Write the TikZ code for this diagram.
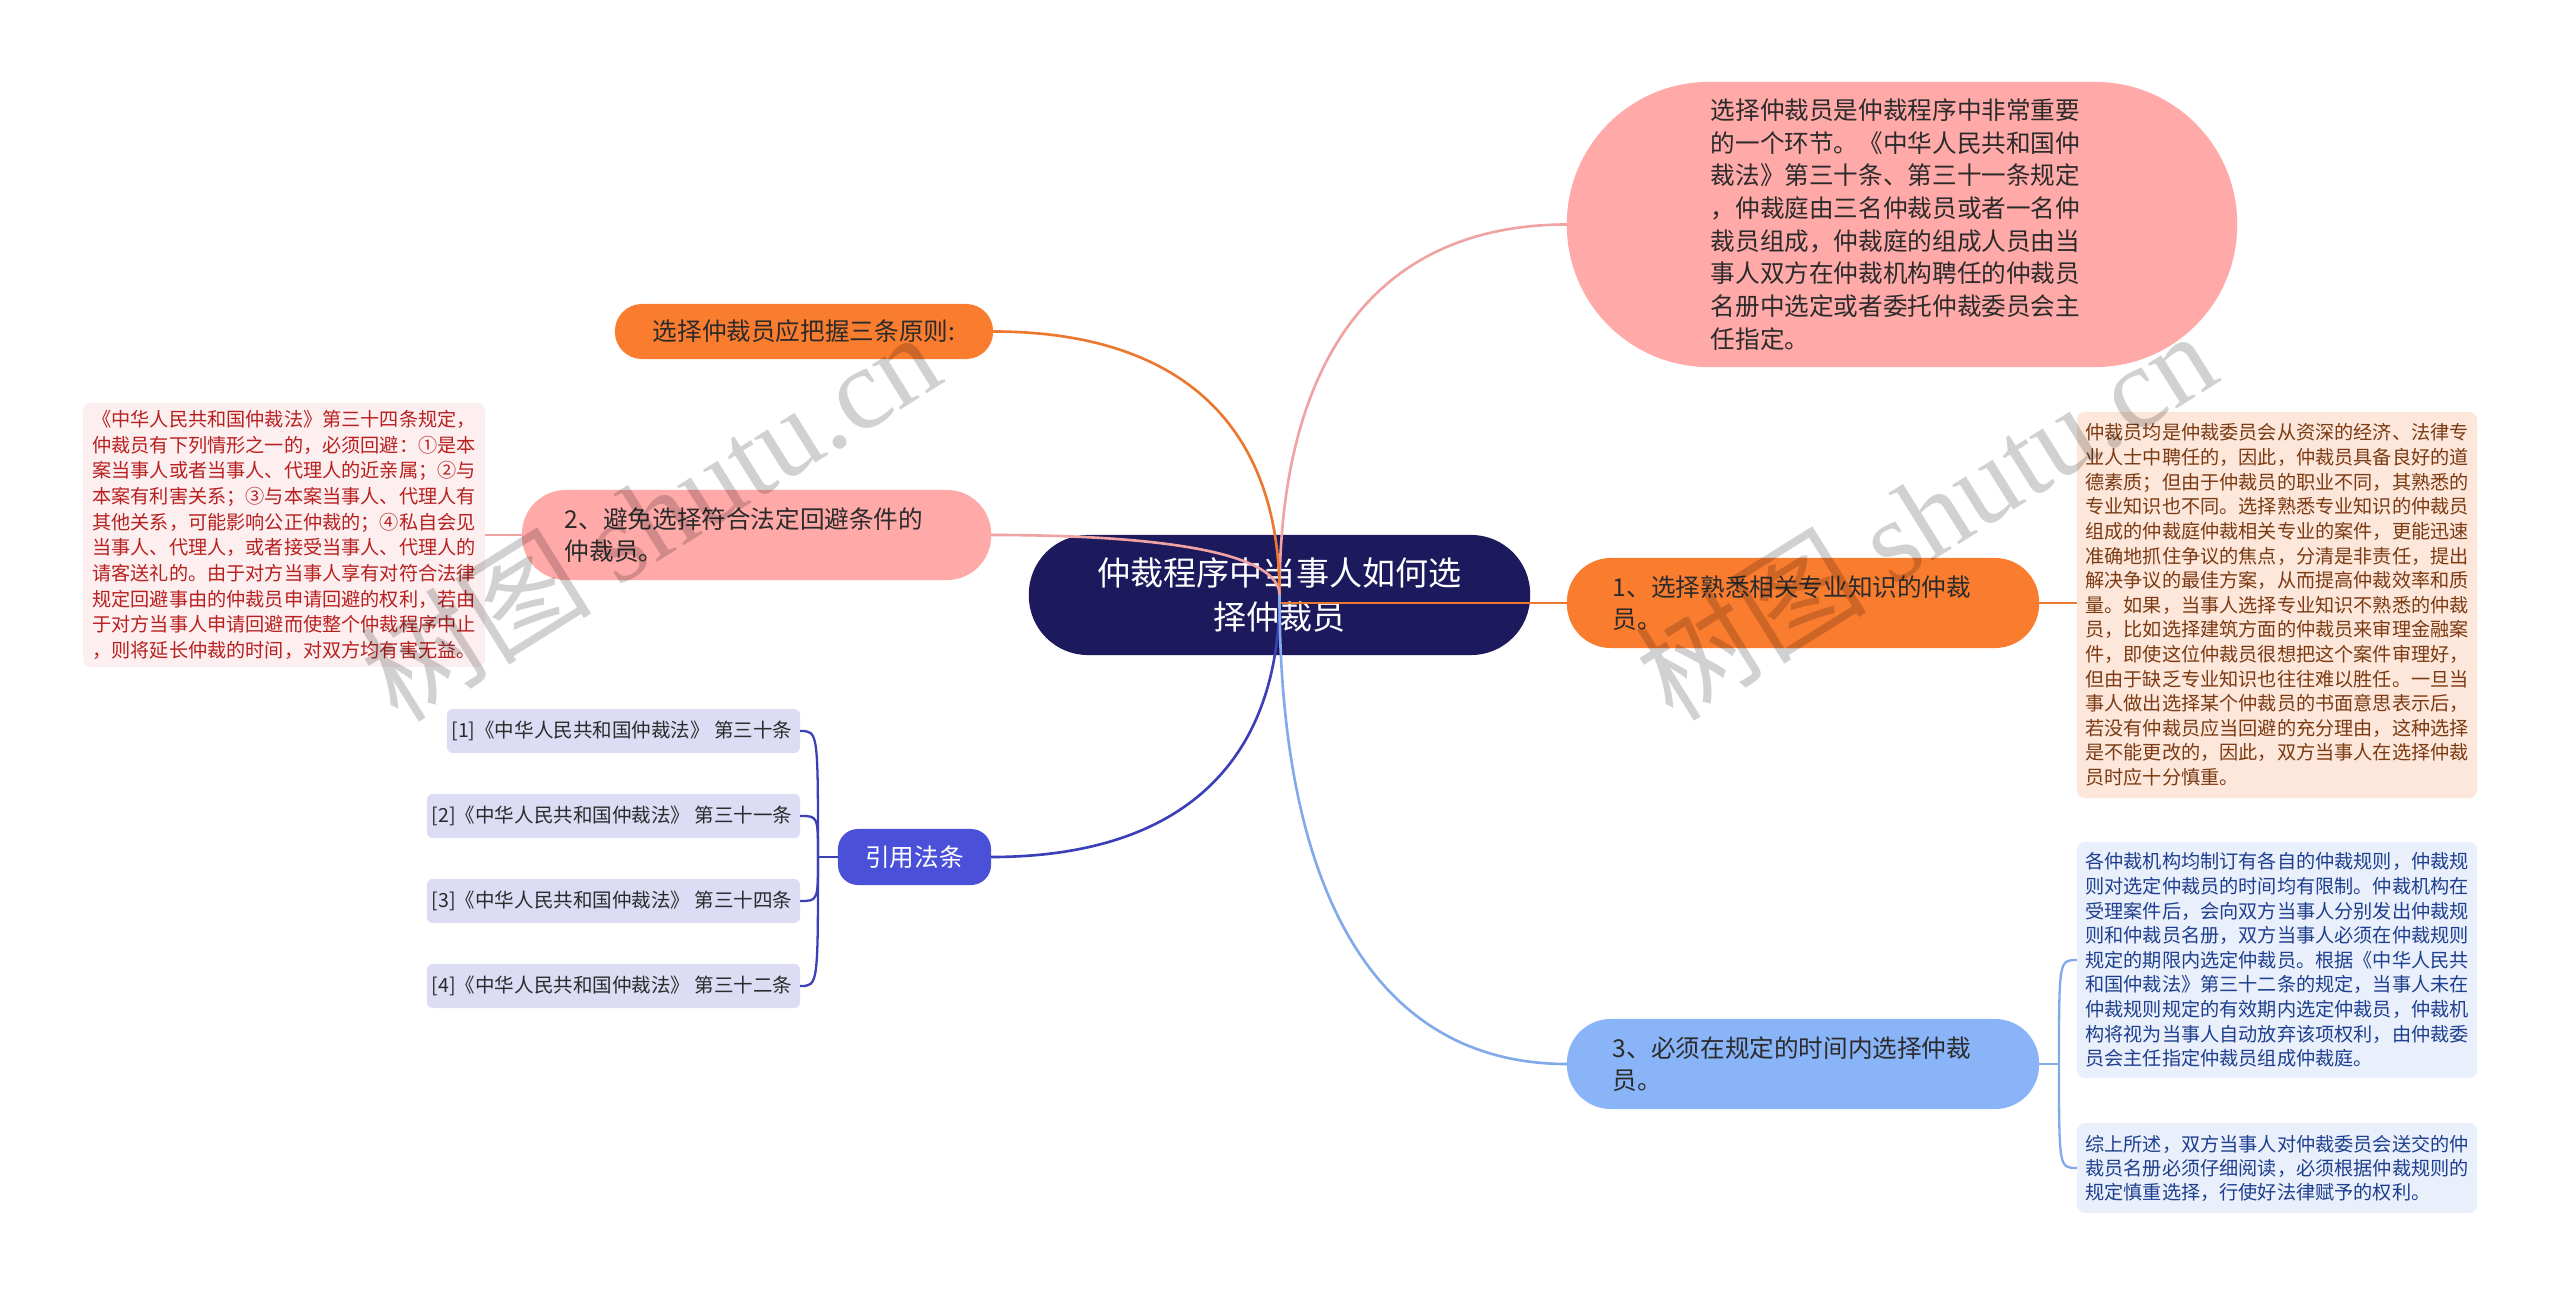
\documentclass[tikz,border=0pt]{standalone}
\usepackage{fontspec}
\setmainfont{Noto Sans CJK SC}
\newfontfamily\wmfont{Liberation Serif}
\usetikzlibrary{calc}
\definecolor{navy}{HTML}{1C195C}
\definecolor{pinkfill}{HTML}{FFA9A8}
\definecolor{orangefill}{HTML}{F97C2F}
\definecolor{indigofill}{HTML}{4B50D8}
\definecolor{bluefill}{HTML}{8AB4F8}
\definecolor{redbox}{HTML}{FDEFEF}
\definecolor{redtxt}{HTML}{B82020}
\definecolor{peachbox}{HTML}{FDE7DB}
\definecolor{browntxt}{HTML}{7B3A12}
\definecolor{bluebox}{HTML}{E9EFFB}
\definecolor{bluetxt}{HTML}{1E3F8F}
\definecolor{refbox}{HTML}{DCDCF5}
\definecolor{darktxt}{HTML}{2B2B2B}
\definecolor{cpinkc}{HTML}{EFA3A3}
\definecolor{corangec}{HTML}{EC7830}
\definecolor{cindigoc}{HTML}{3B3FB8}
\definecolor{cbluec}{HTML}{82AAEA}
\begin{document}
\begin{tikzpicture}[x=0.01cm,y=-0.01cm,
  every node/.style={outer sep=0pt, inner ysep=0pt},
  lvlone/.style={font=\fontsize{7pt}{9.3pt}\selectfont, text=darktxt, align=left, minimum height=0.9cm, rounded corners=0.44cm},
  smallbox/.style={font=\fontsize{5.45pt}{7pt}\selectfont, align=left, text width=3.83cm, inner xsep=0.085cm, rounded corners=0.08cm},
  refnode/.style={fill=refbox, text=darktxt, font=\fontsize{5.55pt}{7pt}\selectfont, inner xsep=0.08cm, minimum height=0.44cm, rounded corners=0.06cm},
  conn/.style={line width=0.75pt},
  subconn/.style={line width=0.65pt},
  wm/.style={text=black, text opacity=0.18, font=\fontsize{33pt}{35pt}\selectfont, rotate=32}
]
\useasboundingbox (0,0) rectangle (2560,1297);

% central
\node[fill=navy, text=white, font=\fontsize{9.4pt}{12.5pt}\selectfont, align=center, minimum width=5.01cm, minimum height=1.2cm, rounded corners=0.59cm] (c) at (1279.5,595) {仲裁程序中当事人如何选\\择仲裁员};

% top right oval
\node[fill=pinkfill, lvlone, rounded corners=1.42cm, text width=3.82cm, inner xsep=1.44cm, minimum height=2.85cm] (t) at (1902,224.5) {选择仲裁员是仲裁程序中非常重要\\的一个环节。《中华人民共和国仲\\裁法》第三十条、第三十一条规定\\，仲裁庭由三名仲裁员或者一名仲\\裁员组成，仲裁庭的组成人员由当\\事人双方在仲裁机构聘任的仲裁员\\名册中选定或者委托仲裁委员会主\\任指定。};

% principle node
\node[fill=orangefill, lvlone, align=center, minimum width=3.78cm, minimum height=0.55cm, rounded corners=0.27cm] (p) at (804,331.5) {选择仲裁员应把握三条原则:};

% level one nodes
\node[fill=pinkfill, lvlone, text width=3.83cm, inner xsep=0.43cm] (n2) at (756.5,535) {2、避免选择符合法定回避条件的\\仲裁员。};
\node[fill=orangefill, lvlone, text width=3.80cm, inner xsep=0.46cm] (n1) at (1803,603) {1、选择熟悉相关专业知识的仲裁\\员。};
\node[fill=bluefill, lvlone, text width=3.80cm, inner xsep=0.46cm] (n3) at (1803,1064) {3、必须在规定的时间内选择仲裁\\员。};
\node[fill=indigofill, text=white, font=\fontsize{7pt}{9.3pt}\selectfont, minimum width=1.53cm, minimum height=0.56cm, rounded corners=0.2cm] (q) at (914.5,857) {引用法条};

% detail boxes
\node[smallbox, fill=redbox, text=redtxt, font=\fontsize{5.45pt}{7.3pt}\selectfont, inner xsep=0.095cm, minimum height=2.64cm] (d2) at (284,535) {《中华人民共和国仲裁法》第三十四条规定，\\仲裁员有下列情形之一的，必须回避：①是本\\案当事人或者当事人、代理人的近亲属；②与\\本案有利害关系；③与本案当事人、代理人有\\其他关系，可能影响公正仲裁的；④私自会见\\当事人、代理人，或者接受当事人、代理人的\\请客送礼的。由于对方当事人享有对符合法律\\规定回避事由的仲裁员申请回避的权利，若由\\于对方当事人申请回避而使整个仲裁程序中止\\，则将延长仲裁的时间，对双方均有害无益。};

\node[smallbox, fill=peachbox, text=browntxt, minimum height=3.86cm] (d1) at (2277,605) {仲裁员均是仲裁委员会从资深的经济、法律专\\业人士中聘任的，因此，仲裁员具备良好的道\\德素质；但由于仲裁员的职业不同，其熟悉的\\专业知识也不同。选择熟悉专业知识的仲裁员\\组成的仲裁庭仲裁相关专业的案件，更能迅速\\准确地抓住争议的焦点，分清是非责任，提出\\解决争议的最佳方案，从而提高仲裁效率和质\\量。如果，当事人选择专业知识不熟悉的仲裁\\员，比如选择建筑方面的仲裁员来审理金融案\\件，即使这位仲裁员很想把这个案件审理好，\\但由于缺乏专业知识也往往难以胜任。一旦当\\事人做出选择某个仲裁员的书面意思表示后，\\若没有仲裁员应当回避的充分理由，这种选择\\是不能更改的，因此，双方当事人在选择仲裁\\员时应十分慎重。};

\node[smallbox, fill=bluebox, text=bluetxt, minimum height=2.36cm] (e1) at (2277,960) {各仲裁机构均制订有各自的仲裁规则，仲裁规\\则对选定仲裁员的时间均有限制。仲裁机构在\\受理案件后，会向双方当事人分别发出仲裁规\\则和仲裁员名册，双方当事人必须在仲裁规则\\规定的期限内选定仲裁员。根据《中华人民共\\和国仲裁法》第三十二条的规定，当事人未在\\仲裁规则规定的有效期内选定仲裁员，仲裁机\\构将视为当事人自动放弃该项权利，由仲裁委\\员会主任指定仲裁员组成仲裁庭。};

\node[smallbox, fill=bluebox, text=bluetxt, font=\fontsize{5.45pt}{6.8pt}\selectfont, minimum height=0.9cm] (e2) at (2277,1168) {综上所述，双方当事人对仲裁委员会送交的仲\\裁员名册必须仔细阅读，必须根据仲裁规则的\\规定慎重选择，行使好法律赋予的权利。};

% references
\node[refnode] (r1) at (623.5,731) {\makebox[3.37cm][r]{[1]《中华人民共和国仲裁法》 第三十条}};
\node[refnode] (r2) at (613.5,816) {\makebox[3.57cm][r]{[2]《中华人民共和国仲裁法》 第三十一条}};
\node[refnode] (r3) at (613.5,901) {\makebox[3.57cm][r]{[3]《中华人民共和国仲裁法》 第三十四条}};
\node[refnode] (r4) at (613.5,986) {\makebox[3.57cm][r]{[4]《中华人民共和国仲裁法》 第三十二条}};

\coordinate (jq) at (818,857);
\coordinate (je) at (2059,1064);

% main connectors
\draw[conn, cpinkc] (c.center) .. controls ($(c.center)!0.65!(c.center|-t.west)$) and ($(t.west)!0.65!(c.center|-t.west)$) .. (t.west);
\draw[conn, corangec] (p.east) .. controls ($(p.east)!0.65!(c.center|-p.east)$) and ($(c.center)!0.65!(c.center|-p.east)$) .. (c.center);
\draw[conn, cpinkc] (n2.east) .. controls ($(n2.east)!0.65!(c.center|-n2.east)$) and ($(c.center)!0.65!(c.center|-n2.east)$) .. (c.center);
\draw[conn, corangec] (c.center|-n1.west) -- (n1.west);
\draw[conn, cindigoc] (c.center) .. controls ($(c.center)!0.65!(c.center|-q.east)$) and ($(q.east)!0.65!(c.center|-q.east)$) .. (q.east);
\draw[conn, cbluec] (c.center) .. controls ($(c.center)!0.65!(c.center|-n3.west)$) and ($(n3.west)!0.65!(c.center|-n3.west)$) .. (n3.west);

% sub connectors
\draw[subconn, cpinkc] (n2.west) -- (d2.east);
\draw[subconn, corangec] (n1.east) -- (n1.east -| d1.west);
\draw[subconn, cindigoc] (q.west) -- (jq);
\foreach \r in {r1,r2,r3,r4} {\draw[subconn, cindigoc] (\r.east) .. controls (\r.east -| jq) .. (jq);}
\draw[subconn, cbluec] (n3.east) -- (je);
\foreach \r in {e1,e2} {\draw[subconn, cbluec] (\r.west) .. controls (\r.west -| je) .. (je);}

% watermarks
\node[wm] (wm1) at (650,515) {树图 {\wmfont shutu.cn}};
\node[wm] (wm2) at (1925,514) {树图 {\wmfont shutu.cn}};
\end{tikzpicture}
\end{document}
